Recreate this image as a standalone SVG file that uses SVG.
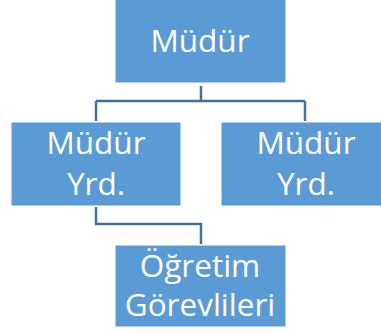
<svg xmlns="http://www.w3.org/2000/svg" width="381" height="333" viewBox="0 0 381 333">
<style>
.box{fill:#5b9bd5;stroke:#ffffff;stroke-width:1}
.t{fill:#ffffff;font-family:"Open Sans","Liberation Sans",sans-serif;font-size:31.5px;text-anchor:middle}
.c{fill:none;stroke:#41719c;stroke-width:2.5}
</style>
<rect width="381" height="333" fill="#ffffff"/>
<g id="connectors">
<path class="c" d="M201 86V101M96 101H305M96 101V121M305 101V121"/>
<path class="c" d="M96 207V224H201V244"/>
</g>
<g id="mudur">
<rect class="box" x="115" y="-1" width="171" height="84"/>
<text class="t" x="200" y="52">Müdür</text>
</g>
<g id="yrd1">
<rect class="box" x="11" y="122" width="170" height="84"/>
<text class="t" x="96" y="154">Müdür</text>
<text class="t" x="96" y="195">Yrd.</text>
</g>
<g id="yrd2">
<rect class="box" x="221" y="122" width="170" height="84"/>
<text class="t" x="306" y="154">Müdür</text>
<text class="t" x="306" y="195">Yrd.</text>
</g>
<g id="ogretim">
<rect class="box" x="115" y="245" width="171" height="82"/>
<text class="t" x="200" y="277">Öğretim</text>
<text class="t" x="200" y="316">Görevlileri</text>
</g>
</svg>
